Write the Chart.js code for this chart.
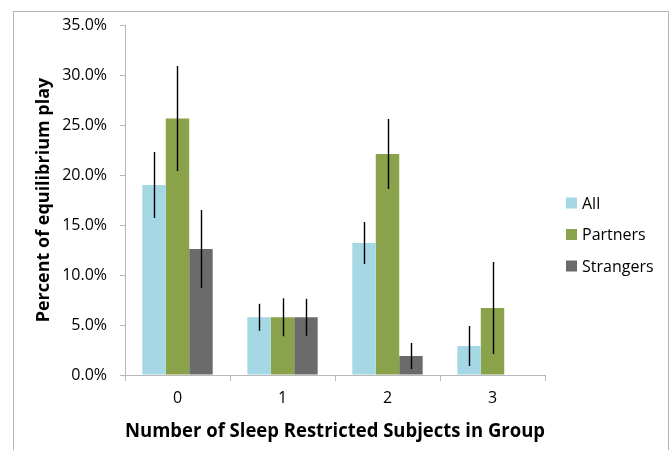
<!DOCTYPE html>
<html>
<head>
<meta charset="utf-8">
<script src="https://cdn.jsdelivr.net/npm/chart.js@4"></script>
<style>
  html, body { margin: 0; padding: 0; background: #fff; }
  #wrap { width: 670px; height: 450px; }
</style>
</head>
<body>
<div id="wrap"><canvas id="myChart" width="670" height="450"></canvas></div>
<script>
const groups = ["0", "1", "2", "3"];
const seriesNames = ["All", "Partners", "Strangers"];
const allValues = [19.0, 5.77, 13.2, 2.9];
const allErrors = [3.3, 1.35, 2.1, 2.0];
const partnerValues = [25.65, 5.77, 22.1, 6.7];
const partnerErrors = [5.25, 1.9, 3.5, 4.6];
const strangerValues = [12.6, 5.77, 1.9, null];
const strangerErrors = [3.9, 1.85, 1.3, null];
const yTicks = [0, 5, 10, 15, 20, 25, 30, 35];

const colors = ["#a5d7e5", "#8aa24a", "#6b6b6b"];
const fontFamily = "'Open Sans', sans-serif";

// frame around the whole figure (like the exported Excel chart)
const framePlugin = {
	id: "frame",
	beforeDraw(chart) {
		const ctx = chart.ctx;
		ctx.save();
		ctx.fillStyle = "#fff";
		ctx.fillRect(0, 0, chart.width, chart.height);
		ctx.strokeStyle = "#b5b5b5";
		ctx.lineWidth = 1;
		ctx.strokeRect(13.5, 11.5, 655, 460);
		ctx.restore();
	},
};

// vertical error bars, one per bar
const errorBarPlugin = {
	id: "errorBars",
	afterDatasetsDraw(chart) {
		const ctx = chart.ctx;
		const yScale = chart.scales.y;
		ctx.save();
		ctx.strokeStyle = "#000";
		ctx.lineWidth = 1.4;
		chart.data.datasets.forEach((ds, i) => {
			const meta = chart.getDatasetMeta(i);
			meta.data.forEach((bar, j) => {
				const v = ds.data[j];
				const e = ds.errors[j];
				if (v == null || e == null) return;
				const x = Math.round(bar.x) + 0.5;
				ctx.beginPath();
				ctx.moveTo(x, yScale.getPixelForValue(v + e));
				ctx.lineTo(x, yScale.getPixelForValue(v - e));
				ctx.stroke();
			});
		});
		ctx.restore();
	},
};

// legend on the right, laid out like the original
const sideLegendPlugin = {
	id: "sideLegend",
	afterDraw(chart) {
		const ctx = chart.ctx;
		const area = chart.chartArea;
		ctx.save();
		ctx.font = "16px " + fontFamily;
		ctx.textBaseline = "middle";
		ctx.textAlign = "left";
		chart.data.datasets.forEach((ds, i) => {
			const cy = 203 + i * 31.5;
			const bx = area.right + 21;
			ctx.fillStyle = ds.backgroundColor;
			ctx.fillRect(bx, cy - 5.5, 11, 11);
			ctx.fillStyle = "#000";
			ctx.fillText(ds.label, bx + 16, cy + 1);
		});
		ctx.restore();
	},
};

const ctx = document.getElementById("myChart");
const myChart = new Chart(ctx, {
	type: "bar",
	data: {
		labels: groups,
		datasets: [
			{ label: seriesNames[0], data: allValues, errors: allErrors, backgroundColor: colors[0] },
			{ label: seriesNames[1], data: partnerValues, errors: partnerErrors, backgroundColor: colors[1] },
			{ label: seriesNames[2], data: strangerValues, errors: strangerErrors, backgroundColor: colors[2] },
		],
	},
	plugins: [framePlugin, errorBarPlugin, sideLegendPlugin],
	options: {
		responsive: false,
		animation: false,
		devicePixelRatio: 1,
		categoryPercentage: 0.67,
		barPercentage: 1.0,
		layout: {
			padding: { left: 0, top: 25, right: 125, bottom: 0 },
		},
		plugins: {
			legend: { display: false },
			tooltip: { enabled: false },
		},
		scales: {
			x: {
				offset: true,
				grid: {
					display: true,
					drawOnChartArea: false,
					drawTicks: true,
					tickLength: 6,
					color: "#b8b8b8",
					offset: true,
				},
				border: { color: "#b8b8b8", width: 1 },
				ticks: {
					color: "#000",
					padding: 8,
					font: { family: fontFamily, size: 16 },
				},
				title: {
					display: true,
					text: "Number of Sleep Restricted Subjects in Group",
					color: "#000",
					font: { family: fontFamily, size: 19.5, weight: "bold" },
					padding: { top: 4, bottom: 7 },
				},
				afterFit(scale) {
					scale.height = 75;
				},
			},
			y: {
				min: 0,
				max: 35,
				afterBuildTicks(scale) {
					scale.ticks = yTicks.map((v) => ({ value: v }));
				},
				grid: {
					display: true,
					drawOnChartArea: false,
					drawTicks: true,
					tickLength: 5,
					color: "#b8b8b8",
				},
				border: { color: "#b8b8b8", width: 1 },
				ticks: {
					color: "#000",
					padding: 13,
					font: { family: fontFamily, size: 16 },
					callback: (v) => Number(v).toFixed(1) + "%",
				},
				title: {
					display: true,
					text: "Percent of equilibrium play",
					color: "#000",
					font: { family: fontFamily, size: 18, weight: "bold" },
					padding: { top: 33, bottom: 0 },
				},
				afterFit(scale) {
					scale.width = 125;
				},
			},
		},
	},
});
</script>
</body>
</html>
